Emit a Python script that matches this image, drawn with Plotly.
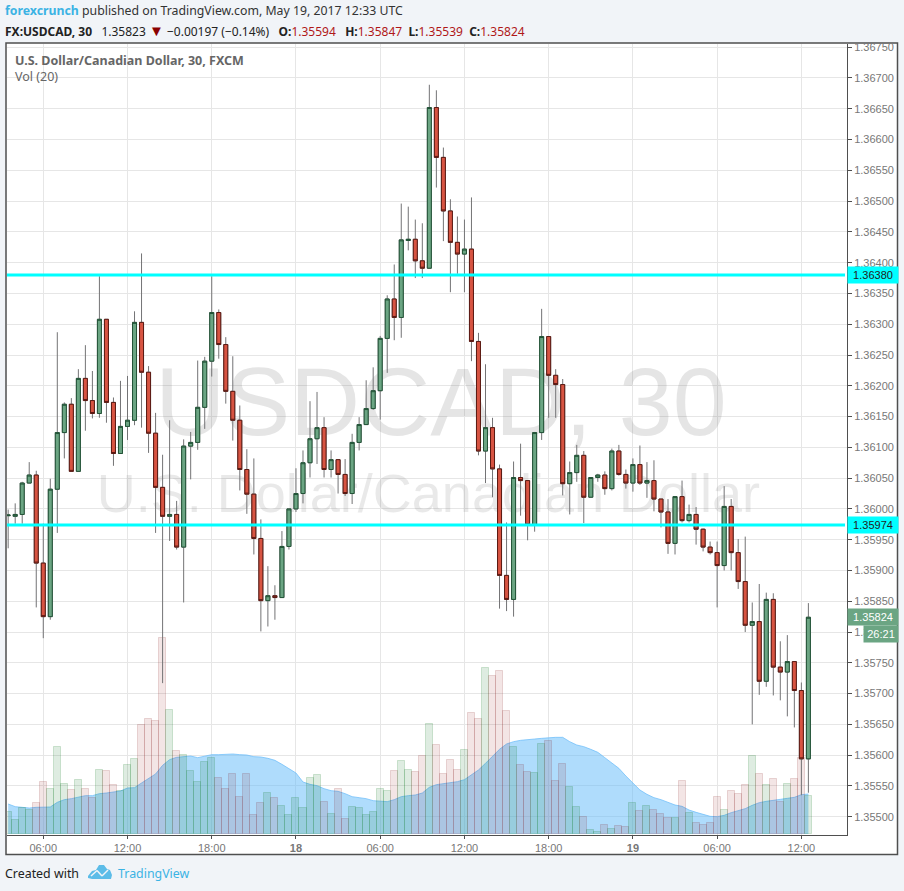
import plotly.graph_objects as go
import pandas as pd

open_pts = [
    135989,135988,135991,136042,136055,135912,135825,136032,136124,136170,
    136061,136212,136176,136155,136308,136173,136090,136134,136144,136303,
    136222,136123,136035,135988,135991,135938,136102,136108,136165,136240,
    136319,136267,136191,136144,136064,136024,135952,135851,135859,135856,
    135939,136000,136025,136075,136114,136132,136064,136080,136056,136025,
    136108,136137,136163,136192,136277,136341,136311,136436,136438,136403,
    136391,136652,136571,136484,136433,136414,136422,136272,136094,136132,
    136065,135892,135853,136051,136046,135974,136124,136280,136217,136202,
    136041,136059,136087,136019,136051,136055,136033,136094,136056,136042,
    136072,136042,136046,136016,135995,135944,136020,135981,135991,135967,
    135938,135929,135908,136004,135929,135882,135811,135817,135720,135853,
    135743,135735,135752,135705,135594]
close_pts = [
    135990,135991,136042,136055,135912,135825,136032,136124,136170,136061,
    136212,136176,136155,136308,136173,136090,136134,136144,136303,136222,
    136123,136035,135988,135991,135938,136102,136108,136165,136240,136319,
    136267,136191,136144,136064,136024,135952,135851,135859,135856,135939,
    136000,136025,136075,136114,136132,136064,136080,136056,136025,136108,
    136137,136163,136192,136277,136341,136311,136437,136438,136403,136391,
    136652,136571,136484,136433,136414,136422,136272,136094,136132,136065,
    135892,135853,136051,136046,135974,136124,136280,136217,136202,136041,
    136059,136087,136019,136051,136055,136033,136094,136056,136042,136072,
    136042,136046,136016,135995,135944,136020,135981,135991,135967,135938,
    135929,135908,136004,135929,135882,135811,135817,135720,135853,135743,
    135735,135752,135705,135594,135824]
high_pts = [
    135999,136009,136044,136076,136062,135976,136049,136287,136173,136180,
    136227,136266,136224,136378,136308,136181,136208,136216,136321,136415,
    136232,136156,136088,136144,136013,136113,136125,136241,136247,136378,
    136324,136279,136248,136168,136097,136082,135983,135907,135876,135964,
    136000,136066,136095,136175,136190,136149,136095,136080,136081,136122,
    136149,136209,136230,136281,136347,136397,136496,136491,136470,136464,
    136689,136680,136587,136503,136475,136470,136506,136286,136235,136148,
    136072,135978,136077,136106,136046,136125,136325,136280,136227,136211,
    136077,136104,136094,136051,136057,136061,136098,136104,136064,136082,
    136103,136076,136079,136016,136016,136020,136046,136007,136003,135968,
    135947,135947,136037,136016,135951,135955,135848,135878,135864,135863,
    135785,135795,135752,135718,135847]
low_pts = [
    135936,135976,135976,136042,135840,135790,135820,135961,136082,136061,
    136061,136127,136147,136148,136140,136070,136090,136112,136136,136132,
    136091,135961,135717,135948,135934,135848,136048,136096,136130,136215,
    136244,136171,136111,136030,135992,135926,135801,135809,135820,135856,
    135934,135995,136009,136051,136073,136051,136051,136025,136021,136008,
    136095,136137,136161,136145,136221,136274,136278,136420,136375,136375,
    136391,136522,136435,136352,136382,136352,136240,136087,136042,136019,
    135838,135834,135825,135989,135949,135963,136112,136148,136148,136022,
    135991,136044,135977,136019,136044,136023,136030,136054,136033,136028,
    136039,136018,135996,135970,135927,135926,135978,135978,135942,135931,
    135926,135840,135900,135900,135870,135800,135650,135698,135711,135697,
    135689,135663,135645,135535,135539]
volume = [
    65,41,78,72,92,155,134,260,149,131,
    161,134,107,191,188,146,128,206,224,326,
    344,338,587,371,248,236,188,155,215,227,
    167,134,179,110,179,56,92,122,107,83,
    56,107,77,167,176,95,59,134,44,80,
    77,56,65,134,128,188,218,191,185,233,
    329,266,179,221,191,251,362,344,497,473,
    488,368,260,206,185,182,269,278,158,209,
    140,80,51,11,5,26,14,23,20,92,
    68,83,71,59,47,47,158,62,32,26,
    32,110,71,128,119,146,233,179,146,164,
    95,149,164,227,113]
volume_ma = [
    90,82,80,78,80,81,81,95,103,106,
    110,115,115,121,123,127,129,138,139,153,
    167,180,206,223,230,233,234,229,233,238,
    238,239,240,238,237,232,231,227,221,209,
    197,183,156,149,145,136,130,128,121,112,
    109,106,100,98,97,103,112,115,117,123,
    140,148,151,154,157,163,178,192,212,234,
    254,270,277,281,284,285,287,289,290,290,
    277,267,262,254,245,229,214,197,174,152,
    132,119,109,103,96,87,83,72,65,58,
    53,52,56,64,70,76,86,94,98,102,
    104,107,110,118,120]

support_levels = [1.36380, 1.35974]
last_price = 1.35824
countdown = "26:21"
tick_dates = ["2017-05-17 06:00","2017-05-17 12:00","2017-05-17 18:00","2017-05-18 00:00",
              "2017-05-18 06:00","2017-05-18 12:00","2017-05-18 18:00","2017-05-19 00:00",
              "2017-05-19 06:00","2017-05-19 12:00"]
tick_text = ["06:00","12:00","18:00","<b>18</b>","06:00","12:00","18:00","<b>19</b>","06:00","12:00"]

W, H = 904, 891
SANS = "Liberation Sans"
HUM = "Noto Sans"
UP, DOWN = "#6ba583", "#d75442"
UP_B, DOWN_B = "#225437", "#5b1a13"
WICK = "#737375"
GRID = "#e6e6e6"
FRAME = "#4f4f4f"
TICK = "#777777"

times = pd.date_range("2017-05-17 03:30", periods=len(open_pts), freq="30min")
o = [v / 1e5 for v in open_pts]
c = [v / 1e5 for v in close_pts]
h = [v / 1e5 for v in high_pts]
l = [v / 1e5 for v in low_pts]
body_hi = [max(a, b) for a, b in zip(o, c)]
body_lo = [min(a, b) for a, b in zip(o, c)]
rising = [b >= a for a, b in zip(o, c)]
vol_fill = ["rgba(0,110,20,0.13)" if r else "rgba(139,0,0,0.1)" for r in rising]
vol_edge = ["rgba(0,110,20,0.17)" if r else "rgba(120,0,0,0.14)" for r in rising]

px = lambda x: x / W
py = lambda y: 1 - y / H
VOL_RANGE = [-3, 2370]

fig = go.Figure()
# watermark and the volume average sit on the lowest axis pair
fig.add_trace(go.Scatter(x=["2017-05-18 10:20"], y=[1270], mode="text", text=["USDCAD, 30"],
                         textfont=dict(family=SANS, size=97, color="rgba(110,110,110,0.18)"),
                         textposition="middle center", hoverinfo="skip", showlegend=False, cliponaxis=False))
fig.add_trace(go.Scatter(x=["2017-05-18 09:26"], y=[1008], mode="text", text=["U.S. Dollar/Canadian Dollar"],
                         textfont=dict(family=SANS, size=54, color="rgba(110,110,110,0.15)"),
                         textposition="middle center", hoverinfo="skip", showlegend=False, cliponaxis=False))
fig.add_trace(go.Scatter(x=times, y=volume_ma, mode="lines", fill="tozeroy",
                         line=dict(color="rgba(110,190,250,0.75)", width=1),
                         fillcolor="rgba(96,185,250,0.5)", hoverinfo="skip", showlegend=False))
fig.add_trace(go.Bar(x=times, y=volume, yaxis="y2", width=1800000,
                     marker=dict(color=vol_fill, line=dict(color=vol_edge, width=1)),
                     hoverinfo="skip", showlegend=False))
# wicks
fig.add_trace(go.Candlestick(x=times, open=o, high=h, low=l, close=c, yaxis="y3", whiskerwidth=0,
                             increasing=dict(line=dict(color=WICK, width=1), fillcolor=WICK),
                             decreasing=dict(line=dict(color=WICK, width=1), fillcolor=WICK),
                             hoverinfo="skip", showlegend=False))
# bodies with their dark edge
fig.add_trace(go.Candlestick(x=times, open=o, high=body_hi, low=body_lo, close=c, yaxis="y3", whiskerwidth=0,
                             increasing=dict(line=dict(color=UP_B, width=1), fillcolor=UP),
                             decreasing=dict(line=dict(color=DOWN_B, width=1), fillcolor=DOWN),
                             showlegend=False))

shapes = [
    dict(type="rect", xref="paper", yref="paper", x0=px(6), x1=px(897.5), y0=py(43), y1=py(854.5),
         fillcolor="white", line=dict(color=FRAME, width=1.5), layer="below"),
]
for lvl in support_levels:
    shapes.append(dict(type="line", xref="paper", yref="y3", x0=px(7), x1=px(845), y0=lvl, y1=lvl,
                       line=dict(color="#00ffff", width=3), layer="above"))
# TradingView logo
def pth(pts):
    return "M " + " L ".join(f"{px(a):.5f},{py(b):.5f}" for a, b in pts) + " Z"
shapes.append(dict(type="path", xref="paper", yref="paper", layer="above",
                   path=pth([(88,876),(92,871),(96,870),(99,865),(104,865),(107,869),(110,870),(112,875),(111,879),(92,879),(88,878)]),
                   fillcolor="#5cbce8", line=dict(width=0)))
for a, b, a2, b2 in [(91,876,97,870.5),(97,870.5,102,876),(102,876,108,870)]:
    shapes.append(dict(type="line", xref="paper", yref="paper", layer="above", x0=px(a), y0=py(b), x1=px(a2), y1=py(b2),
                       line=dict(color="#f1f4f8", width=1.5)))

red = "#b01818"
dark = "#8b0000"
line2 = ("<b>FX:USDCAD, 30</b>   1.35823 "
         f"<span style='color:{dark};font-size:15px'>▼</span> −0.00197 (−0.14%)   "
         f"<b>O:</b><span style='color:{red}'>1.35594</span>   "
         f"<b>H:</b><span style='color:{red}'>1.35847</span>  "
         f"<b>L:</b><span style='color:{red}'>1.35539</span>  "
         f"<b>C:</b><span style='color:{red}'>1.35824</span>")

def note(x, y, text, size=12, color="#333333", family=HUM, **kw):
    return dict(xref="paper", yref="paper", x=px(x), y=py(y), text=text, showarrow=False, xanchor="left",
                yanchor="middle", font=dict(family=family, size=size, color=color), **kw)

def tag(price, bg, fg):
    return dict(xref="paper", yref="y3", x=px(847), y=price, text=f"{price:.5f}", showarrow=False,
                xanchor="left", yanchor="middle", width=50, height=16, borderpad=0, bgcolor=bg, align="center",
                font=dict(family=SANS, size=11, color=fg))

annotations = [
    note(3, 10.5, "<span style='color:#3bb3e4'><b>forexcrunch</b></span> published on TradingView.com, May 19, 2017 12:33 UTC", size=12.3),
    note(3, 29.5, line2, color="#222222"),
    note(13, 60, "<b>U.S. Dollar/Canadian Dollar, 30, FXCM</b>", size=12.5, color="#666666"),
    note(13, 77, "Vol (20)", size=12.5, color="#666666"),
    note(3, 873, "Created with", size=12.4, color="#222222"),
    note(116, 873, "TradingView", size=12.4, color="#3bb3e4"),
    tag(support_levels[0], "#00ffff", "#222222"),
    tag(support_levels[1], "#00ffff", "#222222"),
    tag(last_price, UP, "white"),
    dict(xref="paper", yref="paper", x=px(863), y=py(634), text=countdown, showarrow=False, xanchor="left",
         yanchor="middle", width=34, height=16, borderpad=0, bgcolor=UP, align="center",
         font=dict(family=SANS, size=11, color="white")),
]

fig.update_layout(
    width=W, height=H, autosize=False, margin=dict(l=0, r=0, t=0, b=0, pad=0, autoexpand=False),
    paper_bgcolor="#f1f4f8", plot_bgcolor="rgba(0,0,0,0)", showlegend=False, bargap=0,
    boxmode="overlay", boxgap=0.43, boxgroupgap=0,
    shapes=shapes, annotations=annotations, hovermode=False,
    xaxis=dict(domain=[px(7), px(847)], type="date", range=["2017-05-17 03:25", "2017-05-19 15:15"],
               tickmode="array", tickvals=tick_dates, ticktext=tick_text, showgrid=True, gridcolor=GRID, gridwidth=1,
               showline=True, linecolor=FRAME, linewidth=1, ticks="outside", ticklen=3, tickcolor=FRAME,
               tickfont=dict(family=SANS, size=11, color=TICK), rangeslider=dict(visible=False), zeroline=False),
    yaxis=dict(domain=[py(835), py(44)], range=VOL_RANGE, visible=False, fixedrange=True),
    yaxis2=dict(overlaying="y", range=VOL_RANGE, visible=False, fixedrange=True),
    yaxis3=dict(overlaying="y", side="right", anchor="x", range=[1.354703, 1.367552], tick0=1.355, dtick=0.0005,
                tickformat=".5f", showgrid=True, gridcolor=GRID, gridwidth=1, zeroline=False,
                showline=True, linecolor=FRAME, linewidth=1, ticks="outside", ticklen=4, tickcolor=FRAME,
                tickfont=dict(family=SANS, size=11, color=TICK)),
)

fig.write_html("out.html", config={"displayModeBar": False},
               post_script="document.body.style.margin='0';")
